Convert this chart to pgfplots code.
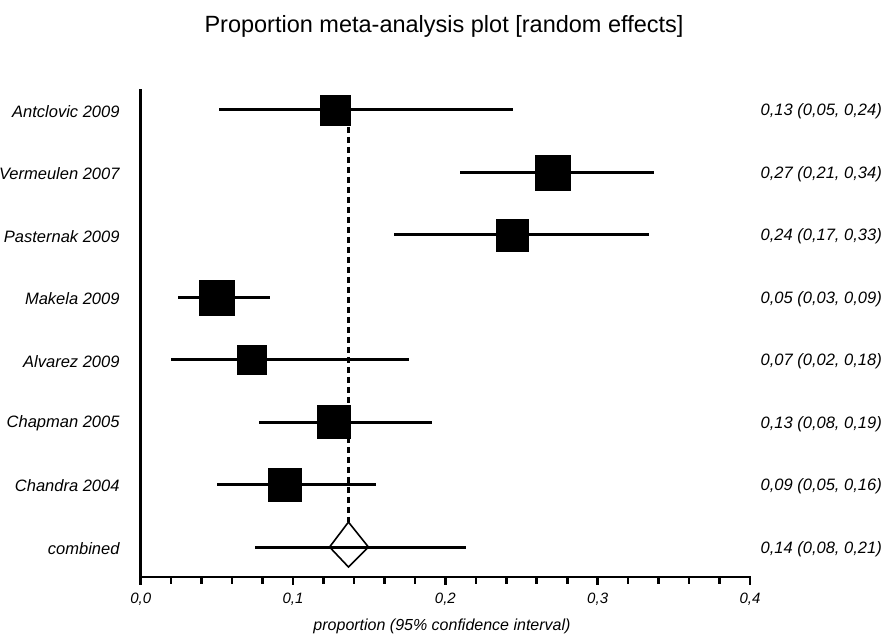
\documentclass[border=0pt]{standalone}
\usepackage{pgfplots}
\pgfplotsset{compat=1.18}
\usepackage{pgfplotstable}
\usepackage{fontspec}
\setmainfont{Liberation Sans}

\pgfplotstableread{
y est lo hi s
8 0.1276 0.0513 0.2447 15
7 0.2707 0.2097 0.3370 17.5
6 0.2438 0.1663 0.3337 16
5 0.0498 0.0243 0.0852 17.5
4 0.0728 0.0197 0.1764 14.5
3 0.1266 0.0774 0.1915 16.5
2 0.0948 0.0498 0.1548 16.5
}\studies

\pgfplotstableread{
y est lo hi
1 0.1364 0.0748 0.2138
}\combined

\begin{document}
\begin{tikzpicture}
\path[use as bounding box] (0,0) rectangle (887pt,635pt);
\node[anchor=base, inner sep=0, font=\fontsize{23.5}{23.5}\selectfont] at (444pt,602pt) {Proportion meta-analysis plot [random effects]};
\begin{axis}[
  at={(140.7pt,58pt)}, anchor=south west,
  scale only axis, width=609.3pt, height=487pt,
  xmin=0, xmax=0.4, ymin=0.52, ymax=8.32,
  axis x line=bottom, axis y line=left,
  axis line style={-, line width=2.6pt, line cap=rect},
  xtick={0,0.1,0.2,0.3,0.4},
  xticklabels={{0,0},{0,1},{0,2},{0,3},{0,4}},
  minor x tick num=4,
  tick align=outside,
  major tick length=8pt, minor tick length=7pt,
  every tick/.style={black, line width=2.6pt},
  ytick={1,2,3,4,5,6,7,8},
  yticklabels={combined,Chandra 2004,Chapman 2005,Alvarez 2009,Makela 2009,Pasternak 2009,Vermeulen 2007,Antclovic 2009},
  y tick style={draw=none},
  xticklabel style={font=\itshape\fontsize{15}{15}\selectfont, inner sep=0, yshift=-8pt},
  yticklabel style={font=\itshape\fontsize{16.5}{16.5}\selectfont, inner sep=0, xshift=-13pt, yshift=-1.5pt},
  clip=false,
]
% confidence intervals
\addplot[black, mark=none, draw=none,
  error bars/.cd, x dir=both, x explicit, error mark=none,
  error bar style={line width=3pt, black}]
  table[x=est, y=y, x error plus expr=\thisrow{hi}-\thisrow{est}, x error minus expr=\thisrow{est}-\thisrow{lo}] {\studies};
\addplot[black, mark=none, draw=none,
  error bars/.cd, x dir=both, x explicit, error mark=none,
  error bar style={line width=3pt, black}]
  table[x=est, y=y, x error plus expr=\thisrow{hi}-\thisrow{est}, x error minus expr=\thisrow{est}-\thisrow{lo}] {\combined};
% pooled estimate line
\addplot[black, line width=3pt, dash pattern=on 6pt off 4pt, mark=none] coordinates {(0.1362,8.21) (0.1362,1.40)};
% boxes
\addplot[only marks, scatter, mark=square*, point meta=explicit,
  scatter/use mapped color={draw=black, fill=black},
  visualization depends on={\thisrow{s}\as\ms},
  scatter/@pre marker code/.append style={/tikz/mark size=\ms pt, /tikz/line width=0pt}]
  table[x=est, y=y, meta=s] {\studies};
% diamond
\addplot[black, line width=1.6pt, fill=none, mark=none] coordinates {(0.1240,1) (0.1364,1.40) (0.1495,1) (0.1364,0.68) (0.1240,1)} -- cycle;
% right-hand labels
\begin{scope}[every node/.style={anchor=base west, inner sep=0, xshift=10.5pt, yshift=-6pt, font=\itshape\fontsize{16.5}{16.5}\selectfont}]
\node at (axis cs:0.4,8) {0,13 (0,05, 0,24)};
\node at (axis cs:0.4,7) {0,27 (0,21, 0,34)};
\node at (axis cs:0.4,6) {0,24 (0,17, 0,33)};
\node at (axis cs:0.4,5) {0,05 (0,03, 0,09)};
\node at (axis cs:0.4,4) {0,07 (0,02, 0,18)};
\node at (axis cs:0.4,3) {0,13 (0,08, 0,19)};
\node at (axis cs:0.4,2) {0,09 (0,05, 0,16)};
\node at (axis cs:0.4,1) {0,14 (0,08, 0,21)};
\end{scope}
\end{axis}
\node[anchor=base, inner sep=0, font=\itshape\fontsize{16}{16}\selectfont] at (442pt,4.5pt) {proportion (95\% confidence interval)};
\end{tikzpicture}
\end{document}
